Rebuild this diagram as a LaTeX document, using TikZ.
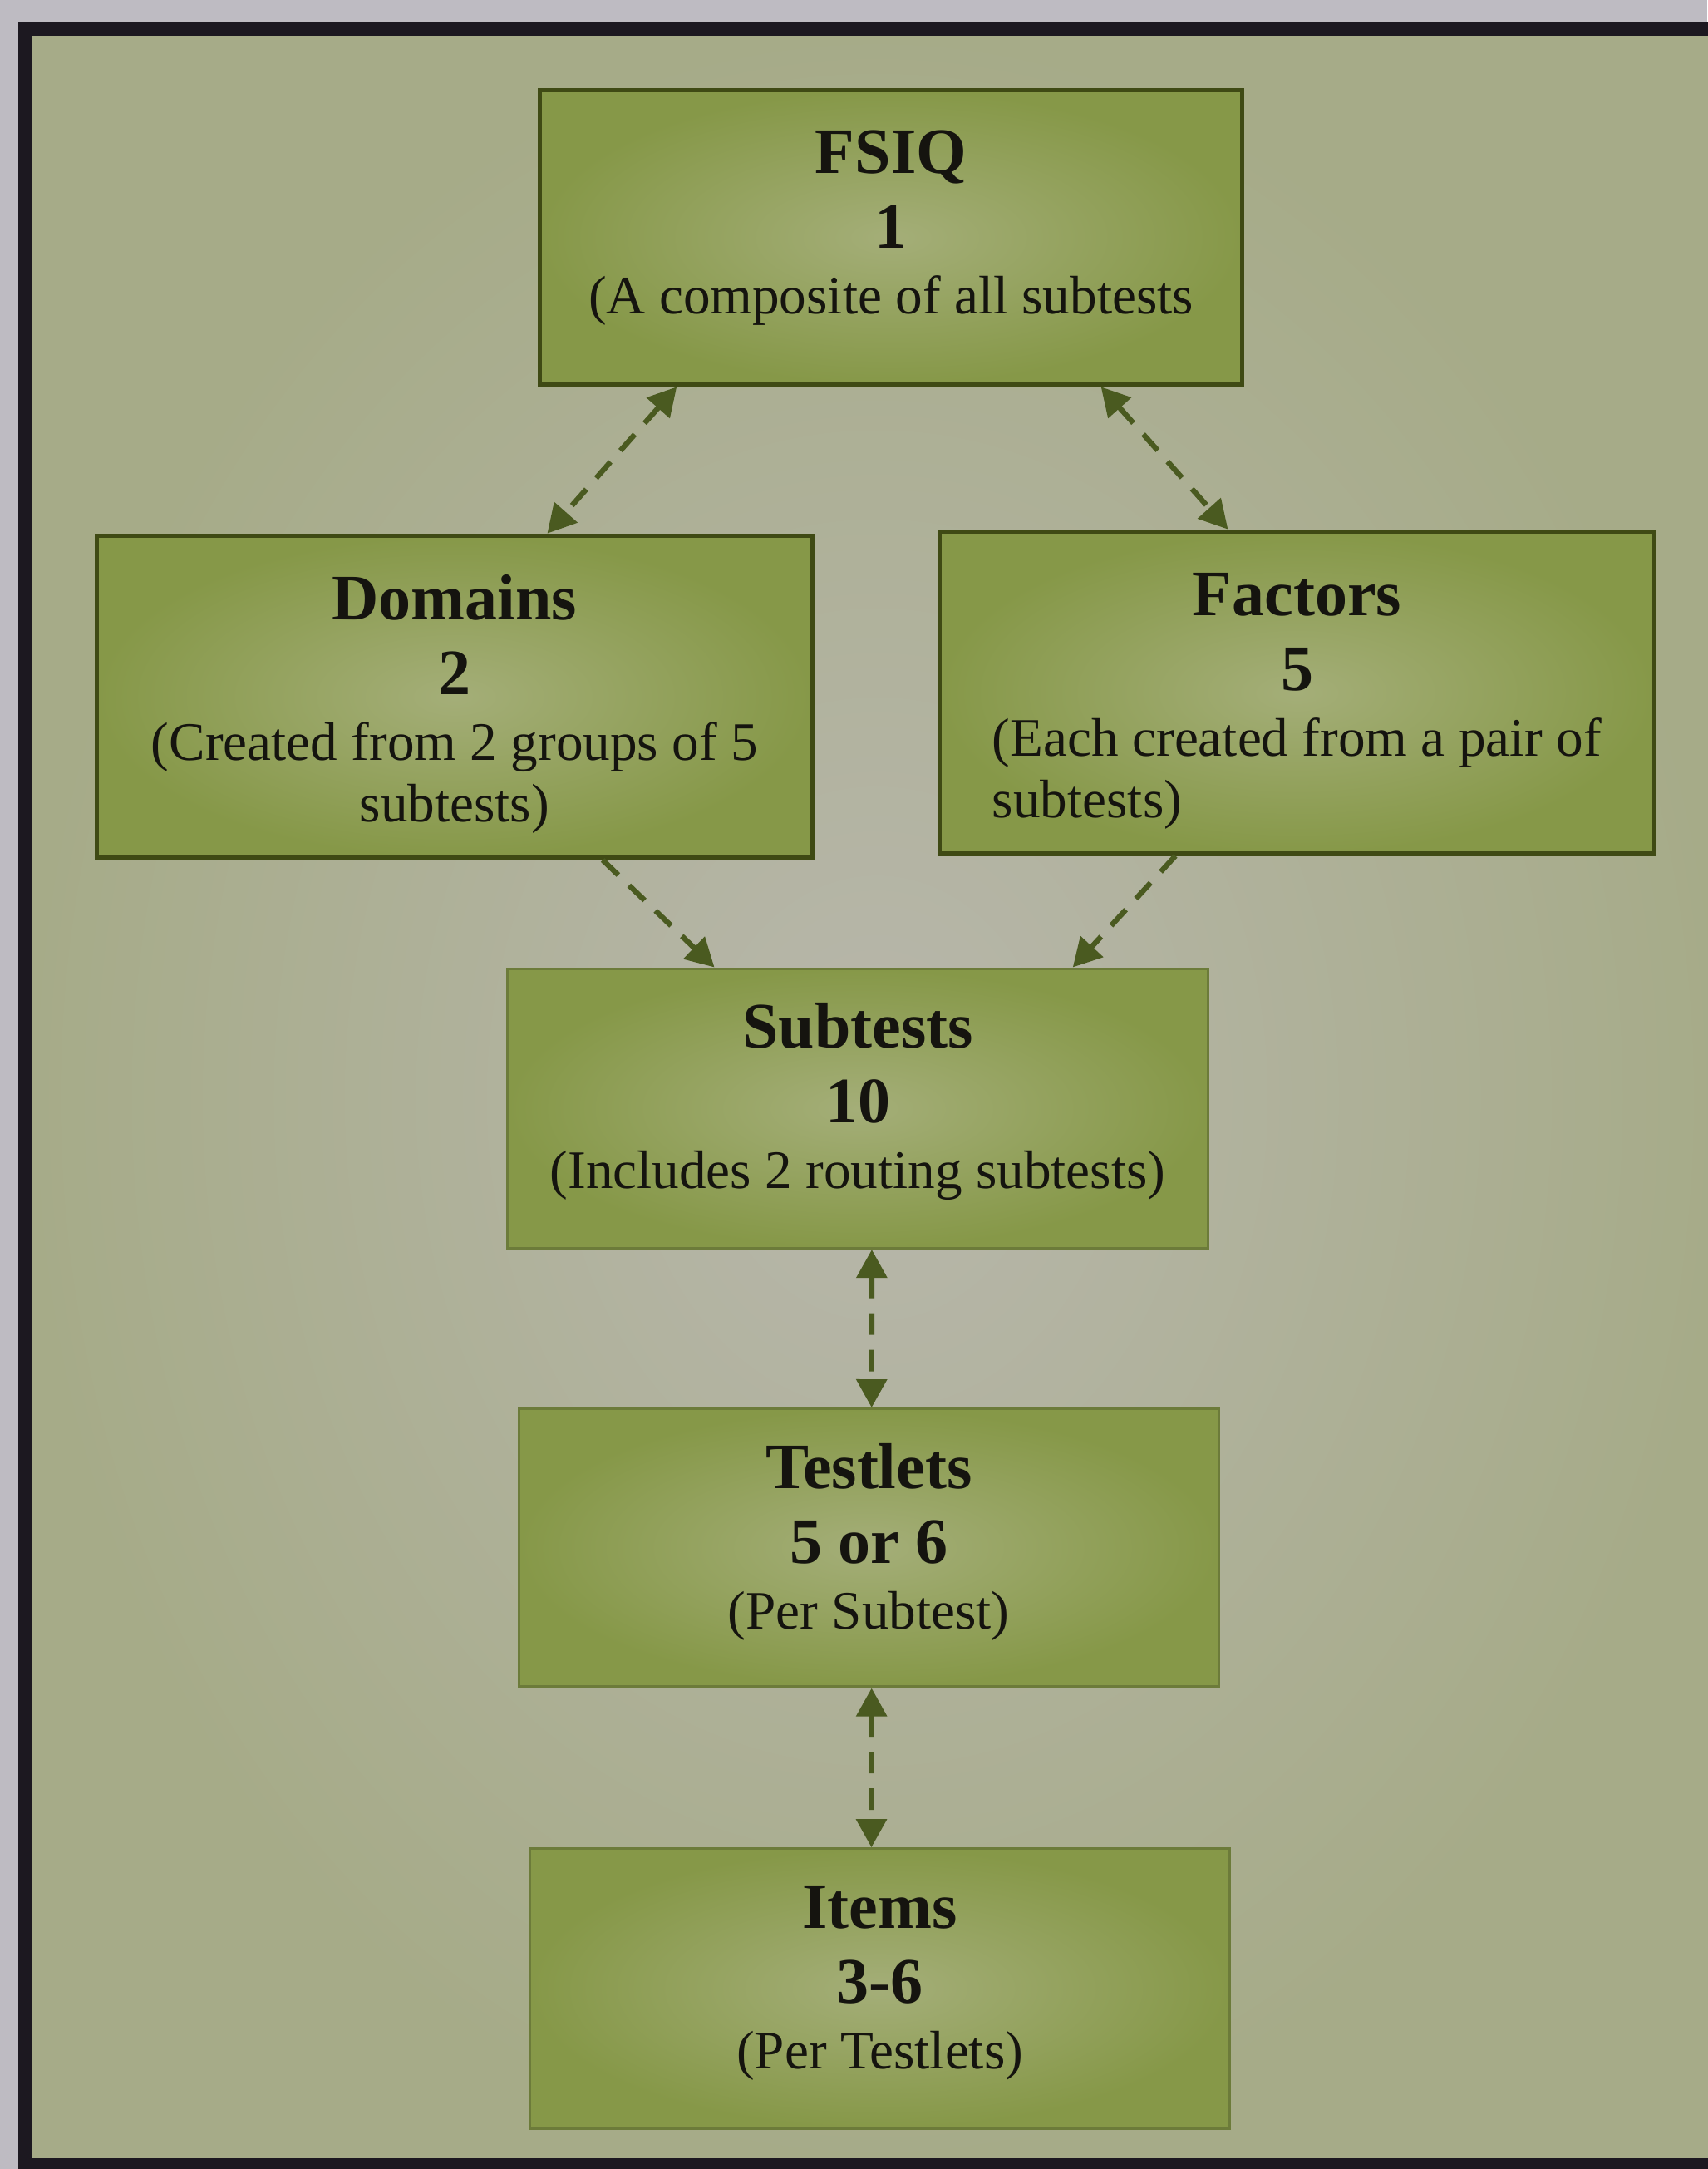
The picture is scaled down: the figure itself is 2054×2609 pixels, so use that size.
\documentclass[tikz,border=0pt]{standalone}
\usepackage{fontspec}
\setmainfont{Liberation Serif}
\usetikzlibrary{arrows.meta,calc}

\definecolor{pagegrey}{HTML}{BEBBC2}
\definecolor{panelmid}{HTML}{B8B7AC}
\definecolor{panelrim}{HTML}{A6AB88}
\definecolor{framecol}{HTML}{1C1820}
\definecolor{boxlight}{HTML}{A4AE78}
\definecolor{boxdark}{HTML}{869848}
\definecolor{edgedark}{HTML}{3F4A14}
\definecolor{edgesoft}{HTML}{6C7B3A}
\definecolor{linkcol}{HTML}{4A5A20}
\definecolor{ink}{HTML}{15140F}

\newcommand\boxhead[1]{{\fontsize{19.5}{22.5}\selectfont\bfseries #1}}

\begin{document}
\begin{tikzpicture}[
  x=0.25pt, y=-0.25pt,
  box/.style={draw=edgedark, line width=1.3pt, inner color=boxlight,
    outer color=boxdark, inner sep=0pt},
  softbox/.style={box, draw=edgesoft, line width=0.8pt},
  boxtext/.style={align=center, text=ink, inner sep=0pt,
    font=\fontsize{16.3}{18.5}\selectfont},
  link/.style={draw=linkcol, line width=1.6pt, dash pattern=on 6.5pt off 4.5pt},
  tip/.tip={Triangle[length=8.5pt, width=9pt]}
]
% page and framed panel
\useasboundingbox (0,0) rectangle (2054,2609);
\fill[pagegrey] (0,0) rectangle (2054,2609);
\path[inner color=panelmid, outer color=panelrim] (30,35) rectangle (2080,2606);
\draw[framecol, line width=4pt] (30,2620) -- (30,35) -- (2080,35);
\draw[framecol, line width=4pt] (30,2604) -- (2080,2604);

% boxes
\node[box, minimum width=211.4pt, minimum height=88.6pt] (fsiq) at (1072,285.5) {};
\node[box, minimum width=215.1pt, minimum height=96.9pt] (dom) at (546.8,838.1) {};
\node[box, minimum width=215.1pt, minimum height=96.9pt] (fac) at (1560.5,833.1) {};
\node[softbox, minimum width=210.6pt, minimum height=84.1pt] (sub) at (1032,1333.3) {};
\node[softbox, minimum width=210.6pt, minimum height=83.6pt] (tst) at (1045.3,1861.8) {};
\node[softbox, minimum width=210.6pt, minimum height=84.1pt] (itm) at (1058.6,2391.9) {};

% box texts
\node[boxtext, yshift=2.9pt] (fsiq-text) at (fsiq.center)
  {\boxhead{FSIQ}\\[4pt]\boxhead{1}\\[1.2pt](A composite of all subtests};
\node[boxtext, yshift=-2.1pt] (dom-text) at (dom.center)
  {\boxhead{Domains}\\[4pt]\boxhead{2}\\[1.2pt](Created from 2 groups of 5\\subtests)};
\node[boxtext, yshift=-3.7pt] (fac-text) at (fac.center)
  {\boxhead{Factors}\\[4pt]\boxhead{5}\\[1.2pt]
   \begin{tabular}[t]{@{}l@{}}(Each created from a pair of\\subtests)\end{tabular}};
\node[boxtext, yshift=2.1pt] (sub-text) at (sub.center)
  {\boxhead{Subtests}\\[4pt]\boxhead{10}\\[1.2pt](Includes 2 routing subtests)};
\node[boxtext, yshift=1.7pt] (tst-text) at (tst.center)
  {\boxhead{Testlets}\\[4pt]\boxhead{5 or 6}\\[1.2pt](Per Subtest)};
\node[boxtext, yshift=1.7pt] (itm-text) at (itm.center)
  {\boxhead{Items}\\[4pt]\boxhead{3-6}\\[1.2pt](Per Testlets)};

% dashed connectors
\draw[link, tip-tip] ($(fsiq.south west)!0.197!(fsiq.south east)$)
  -- ($(dom.north west)!0.629!(dom.north east)$);
\draw[link, tip-tip] ($(fsiq.south west)!0.797!(fsiq.south east)$)
  -- ($(fac.north west)!0.404!(fac.north east)$);
\draw[link, -tip] ($(dom.south west)!0.706!(dom.south east)$)
  -- ($(sub.north west)!0.296!(sub.north east)$);
\draw[link, -tip] ($(fac.south west)!0.331!(fac.south east)$)
  -- ($(sub.north west)!0.806!(sub.north east)$);
\draw[link, tip-tip] ($(sub.south west)!0.520!(sub.south east)$)
  -- ($(tst.north west)!0.504!(tst.north east)$);
\draw[link, tip-tip] ($(tst.south west)!0.504!(tst.south east)$)
  -- ($(itm.north west)!0.488!(itm.north east)$);
\end{tikzpicture}
\end{document}
